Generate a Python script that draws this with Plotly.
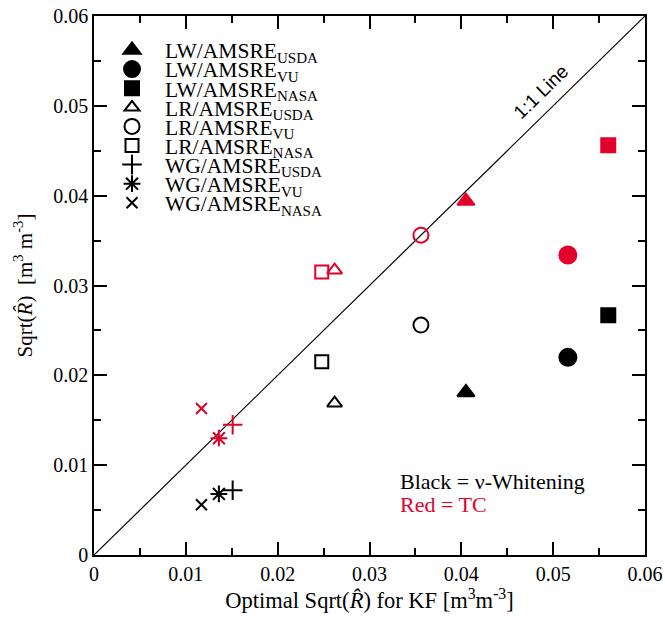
import plotly.graph_objects as go

# ---- data ----
series_names = ["LW/AMSRE<sub>USDA</sub>", "LW/AMSRE<sub>VU</sub>", "LW/AMSRE<sub>NASA</sub>",
                "LR/AMSRE<sub>USDA</sub>", "LR/AMSRE<sub>VU</sub>", "LR/AMSRE<sub>NASA</sub>",
                "WG/AMSRE<sub>USDA</sub>", "WG/AMSRE<sub>VU</sub>", "WG/AMSRE<sub>NASA</sub>"]
kf_optimal = [0.0405, 0.0516, 0.0560, 0.0262, 0.0356, 0.0248, 0.0151, 0.0136, 0.0117]
whitening = [0.0181, 0.0220, 0.0267, 0.0169, 0.0256, 0.0215, 0.0072, 0.0068, 0.0056]
tc = [0.0394, 0.0334, 0.0456, 0.0317, 0.0356, 0.0315, 0.0145, 0.0130, 0.0163]
one_to_one = [0.0, 0.06]

# ---- styles ----
symbols = ["triangle-up", "circle", "square", "triangle-up-open", "circle-open", "square-open",
           "cross-thin-open", "asterisk-open", "x-thin-open"]
sizes = [15, 17, 14, 13, 15, 13, 14, 14, 11]
BLACK = "#000000"
RED = "#E3002B"
SERIF = "Liberation Serif, Times New Roman, serif"
SANS = "Liberation Sans, Arial, sans-serif"

fig = go.Figure()
fig.add_trace(go.Scatter(x=one_to_one, y=one_to_one, mode="lines",
                         line=dict(color="black", width=1.2), showlegend=False, hoverinfo="skip"))

legend_layouts = {}
row0_px = 50.0
row_gap_px = 19.1
plot_top, plot_h = 16.0, 539.0
for i, name in enumerate(series_names):
    lname = "legend" if i == 0 else f"legend{i+1}"
    fig.add_trace(go.Scatter(x=[kf_optimal[i]], y=[whitening[i]], mode="markers", name=name,
                             marker=dict(color=BLACK, symbol=symbols[i], size=sizes[i],
                                         line=dict(color=BLACK, width=2)),
                             legend=lname, showlegend=True))
    fig.add_trace(go.Scatter(x=[kf_optimal[i]], y=[tc[i]], mode="markers", name=name,
                             marker=dict(color=RED, symbol=symbols[i], size=sizes[i],
                                         line=dict(color=RED, width=2)),
                             showlegend=False))
    ypx = row0_px + i * row_gap_px
    legend_layouts[lname] = dict(
        x=0.0091, y=(plot_top + plot_h - ypx) / plot_h, xanchor="left", yanchor="middle",
        bgcolor="rgba(0,0,0,0)", borderwidth=0, itemwidth=56,
        font=dict(family=SERIF, size=21.5, color="black"))

axis_common = dict(range=[0, 0.06], dtick=0.01, showgrid=False, zeroline=False, automargin=False,
                   showline=True, linecolor="black", linewidth=1.5, mirror="ticks",
                   ticks="inside", ticklen=13, tickwidth=1.5, tickcolor="black",
                   minor=dict(ticks="inside", ticklen=7, tickwidth=1.5, tickcolor="black", dtick=0.005),
                   tickfont=dict(family=SERIF, size=20, color="black"))

fig.update_layout(
    width=665, height=618,
    margin=dict(l=94, r=20, t=16, b=63, autoexpand=False),
    plot_bgcolor="white", paper_bgcolor="white",
    xaxis=dict(**axis_common,
               title=dict(text="Optimal Sqrt(<i>R\u0302</i>) for KF [m<sup>3</sup>m<sup>-3</sup>]",
                          font=dict(family=SERIF, size=22.5, color="black"), standoff=3)),
    yaxis=dict(**axis_common,
               title=dict(text="Sqrt(<i>R\u0302</i>)  [m<sup>3</sup> m<sup>-3</sup>]",
                          font=dict(family=SERIF, size=21, color="black"))),
    **legend_layouts,
)

fig.add_annotation(x=0.0487, y=0.0516, xref="x", yref="y", text="1:1 Line", showarrow=False,
                   textangle=-44.4, font=dict(family=SANS, size=19, color="black"))
fig.add_annotation(x=0.0331, y=0.00813, xref="x", yref="y", xanchor="left", yanchor="middle",
                   text="Black = \u03bd-Whitening", showarrow=False,
                   font=dict(family=SERIF, size=22, color="black"))
fig.add_annotation(x=0.0331, y=0.00557, xref="x", yref="y", xanchor="left", yanchor="middle",
                   text="Red = TC", showarrow=False,
                   font=dict(family=SERIF, size=22, color=RED))

fig.write_html("out.html")
